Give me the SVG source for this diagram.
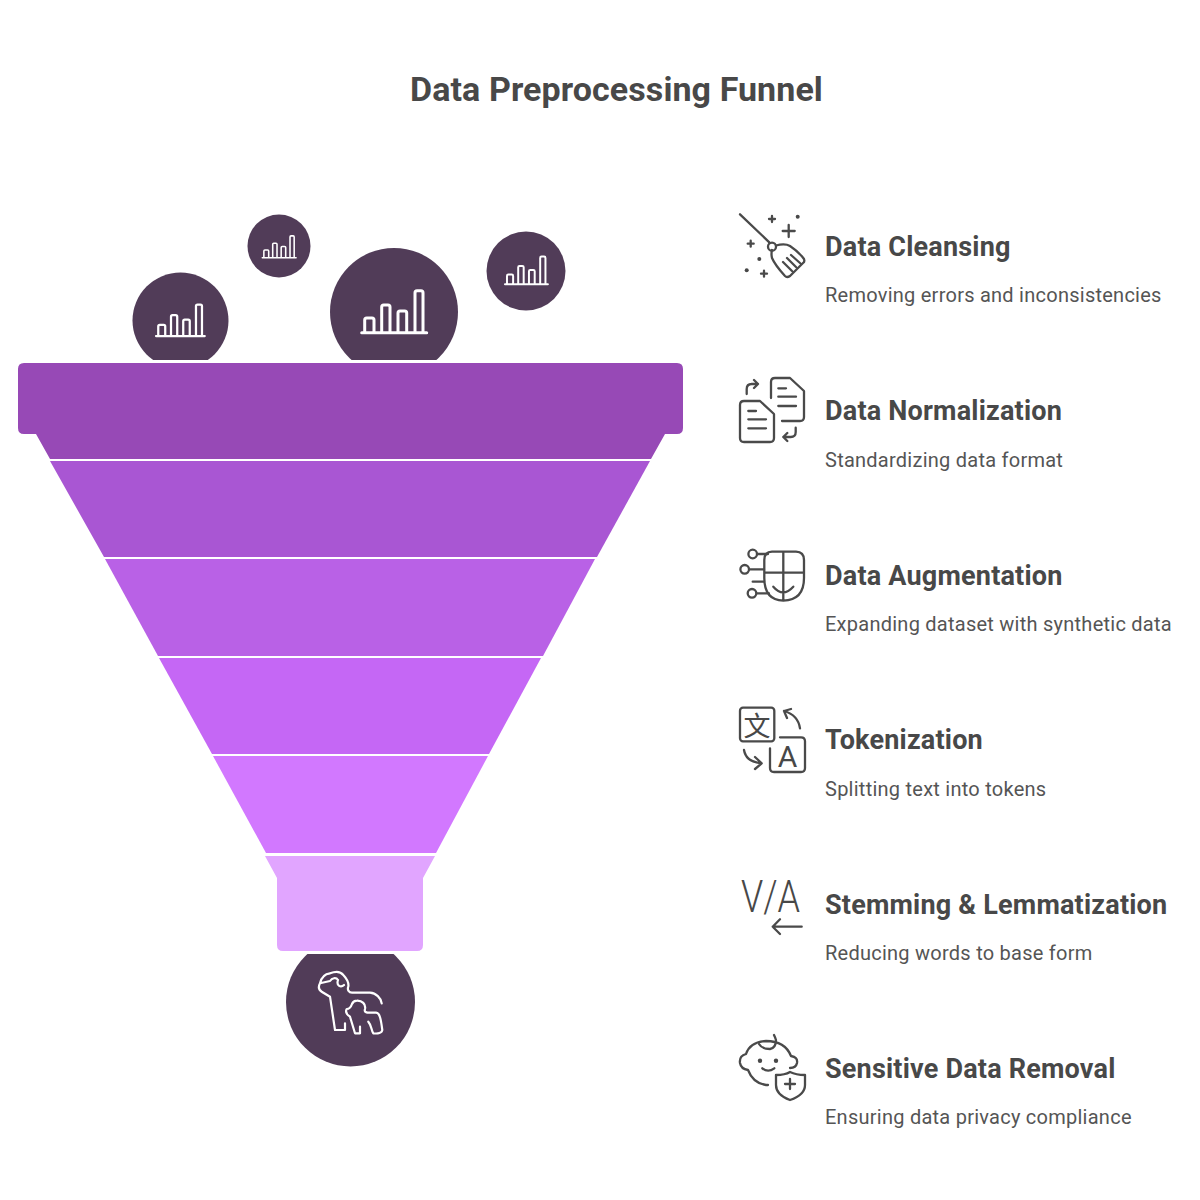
<svg xmlns="http://www.w3.org/2000/svg" xmlns:xlink="http://www.w3.org/1999/xlink" width="1200" height="1200" viewBox="0 0 1200 1200">
<defs>
<style>
text{font-family:Roboto,"Liberation Sans",sans-serif}
.title{font-size:34px;font-weight:700;fill:#484848;letter-spacing:.08px}
.lbl{font-size:27px;font-weight:700;fill:#484848;letter-spacing:.2px}
.desc{font-size:20px;font-weight:400;fill:#555555;letter-spacing:.25px}
.ic{fill:none;stroke:#4a4a4a;stroke-width:2.300;stroke-linecap:round;stroke-linejoin:round}
.dot{fill:#484848}
.w{fill:none;stroke:#ffffff;stroke-linecap:round;stroke-linejoin:round}
.dark{fill:#513C58}
</style>
<clipPath id="above"><rect x="0" y="0" width="700" height="360"/></clipPath>
<clipPath id="below"><rect x="0" y="954" width="700" height="200"/></clipPath>
<path id="bars" class="w" stroke-width="3" d="M0 0H65M3 0V-12.7q0-2 2-2h5.300q2 0 2 2V0M20 0V-25.700q0-2 2-2h4.300q2 0 2 2V0M36.300 0V-19.700q0-2 2-2h4.700q2 0 2 2V0M53.300 0V-40q0-2 2-2h4q2 0 2 2V0"/>
</defs>
<rect width="1200" height="1200" fill="#ffffff"/>
<text class="title" x="616.500" y="101" text-anchor="middle">Data Preprocessing Funnel</text>

<g id="input-circles">
<g clip-path="url(#above)">
<circle class="dark" cx="180.500" cy="320.500" r="48"/>
<circle class="dark" cx="279" cy="246" r="31.500"/>
<circle class="dark" cx="394" cy="312" r="64"/>
<circle class="dark" cx="526" cy="271" r="39.500"/>
</g>
<use xlink:href="#bars" href="#bars" transform="translate(156 336) scale(.75)"/>
<use xlink:href="#bars" href="#bars" transform="translate(262.300 257.700) scale(.52)"/>
<use xlink:href="#bars" href="#bars" transform="translate(361.700 332.700)"/>
<use xlink:href="#bars" href="#bars" transform="translate(505 284.300) scale(.66)"/>
</g>

<g id="funnel">
<path id="band-1" fill="#9749B6" d="M24 363H677q6 0 6 6V428q0 6-6 6H665L651 459H50L36 434H24q-6 0-6-6V369q0-6 6-6Z"/>
<path id="band-2" fill="#A956D3" d="M50 461H650L597 557H104Z"/>
<path id="band-3" fill="#B961E6" d="M105 559H595L543 656H158Z"/>
<path id="band-4" fill="#C567F5" d="M159 658H541L489 754H212Z"/>
<path id="band-5" fill="#D278FF" d="M213 756H488L436 853H266Z"/>
<path id="band-6" fill="#E1A5FF" d="M265 856H435L423 878V945q0 6-6 6H283q-6 0-6-6V878Z"/>
</g>

<g id="output-circle">
<circle class="dark" cx="350.500" cy="1002" r="64.500" clip-path="url(#below)"/>
<path class="w" stroke-width="2.200" d="M338 980C336 986 341 988 344 985M338 980C336 977 332 978 330 981L320 983.300C318 987 319 990 321.700 991.700L330 996.700L335 1030H345V1023.300M330 973.300C323 974 321 979 320 983.300M330 973.300C336 971 341 972 343.300 975C347 979 349 983 348.300 986.700C347 990 349 992.700 352 992.700H370C376 993 381 998 381.700 1003.300"/>
<path class="w" stroke-width="2.200" d="M350 1016.700L355 1033.300H360V1026.700M350 1016.700C346 1014 345 1012 346.700 1009C349 1009 351 1007 352 1004C353 1001.500 355 1000.700 357 1000.700C362 1000.500 366 1004 365 1009C364 1012 366 1012.700 370 1012.700H376C380 1013 381 1020 382.300 1030C382 1033 378 1034 373.300 1033.300C371 1030 372 1026 368.300 1021.700"/>
</g>

<g id="node-cleansing">
<path class="ic" d="M740 214.300L769.300 242.300"/>
<circle class="ic" cx="772" cy="246.700" r="4"/>
<path class="ic" d="M776 245.500Q785 243 790 246Q799 252 804 259Q805 262 803 263L790 276Q787 278 785 276Q775 265 772 258Q771 254 772 250M783 262L792 271M787 258L796 267M791 255L800 263"/>
<path class="ic" d="M788.700 225V237M782.700 231H794.700M772 216V222M769 219H775M750.700 240.700V246.700M747.700 243.700H753.700M764 270.700V276.700M761 273.700H767"/>
<circle class="dot" cx="797.700" cy="216.700" r="2"/><circle class="dot" cx="759.300" cy="259" r="2"/><circle class="dot" cx="746.700" cy="270.300" r="2"/>
<text class="lbl" x="825" y="255.500">Data Cleansing</text>
<text class="desc" x="825" y="302">Removing errors and inconsistencies</text>
</g>

<g id="node-normalization">
<path class="ic" d="M771 398V382q0-4 4-4H790L804 391V417q0 4-4 4H782"/>
<path class="ic" d="M744 401H760L774 414V438q0 4-4 4H744q-4 0-4-4V405q0-4 4-4Z"/>
<path class="ic" d="M748.300 411H756M748.300 419.300H766M748.300 428.300H766M778.300 388.300H786M778.300 396.700H796M778.300 406H796"/>
<path class="ic" d="M746.700 394V389q0-5 5-5H758M754 380L758 384L754 388M795.700 427.700V432q0 5-5 5H783.300M787.300 433L783.300 437L787.300 441"/>
<text class="lbl" x="825" y="420">Data Normalization</text>
<text class="desc" x="825" y="466.500">Standardizing data format</text>
</g>

<g id="node-augmentation">
<path class="ic" d="M772 551.700H796Q804 552 804 560V578Q804 600 783.300 600.700Q764.300 600 764.300 578V560Q764.300 552 772 551.700ZM764.300 572.700H804M783.300 551.700V600.700M773.300 586.700Q783 598 793.300 586.700"/>
<circle class="ic" cx="752.700" cy="554" r="4.300"/><circle class="ic" cx="744.700" cy="569.300" r="4.300"/><circle class="ic" cx="752" cy="593.300" r="4.300"/>
<path class="ic" d="M757.300 554H768M749.500 569.300H764M752.700 581.700H764M757 593.300H769"/>
<text class="lbl" x="825" y="584.500">Data Augmentation</text>
<text class="desc" x="825" y="631">Expanding dataset with synthetic data</text>
</g>

<g id="node-tokenization">
<rect class="ic" x="740" y="707.700" width="34.300" height="33.600" rx="3"/>
<text x="757" y="735.500" text-anchor="middle" font-size="27" fill="#484848" style="font-family:'Noto Sans CJK SC',sans-serif">文</text>
<path class="ic" d="M780 737.300H801q4 0 4 4V768q0 4-4 4H774q-4 0-4-4V748.300"/>
<text x="787.500" y="767.300" text-anchor="middle" font-size="30" font-weight="400" fill="#484848">A</text>
<path class="ic" d="M800 728.300Q798 715 784 711M791 709L784 711L787 718M744 750Q746 762 761.700 763.300M755 757L761.700 763.300L755 769"/>
<text class="lbl" x="825" y="749">Tokenization</text>
<text class="desc" x="825" y="795.500">Splitting text into tokens</text>
</g>

<g id="node-stemming">
<text x="741" y="912" font-size="45" font-weight="300" fill="#484848" textLength="59" lengthAdjust="spacingAndGlyphs">V/A</text>
<path class="ic" d="M772.700 926.700H801.700M780 919.300L772.700 926.700L780 934"/>
<text class="lbl" x="825" y="913.500">Stemming &amp; Lemmatization</text>
<text class="desc" x="825" y="960">Reducing words to base form</text>
</g>

<g id="node-sensitive">
<path class="ic" d="M746 1054Q750 1042 766 1041Q785 1041 791 1056Q798 1057 797 1063Q796 1068 790 1068M746 1054Q739 1056 740 1063Q741 1069 748 1070Q753 1083 766 1085H768"/>
<path class="ic" d="M759 1044Q762 1049 770 1049Q776 1048 776 1040Q775 1037 774 1035"/>
<circle class="dot" cx="760" cy="1060.700" r="2.200"/><circle class="dot" cx="776" cy="1060.700" r="2.200"/>
<path class="ic" d="M762.300 1068.300Q768 1073 774.300 1068.300"/>
<path class="ic" d="M776 1075Q785 1075 790 1072Q796 1075 805 1075V1085Q805 1095 790 1100Q776 1095 776 1085ZM790 1079V1089M785 1084H795"/>
<text class="lbl" x="825" y="1078">Sensitive Data Removal</text>
<text class="desc" x="825" y="1124">Ensuring data privacy compliance</text>
</g>
</svg>
